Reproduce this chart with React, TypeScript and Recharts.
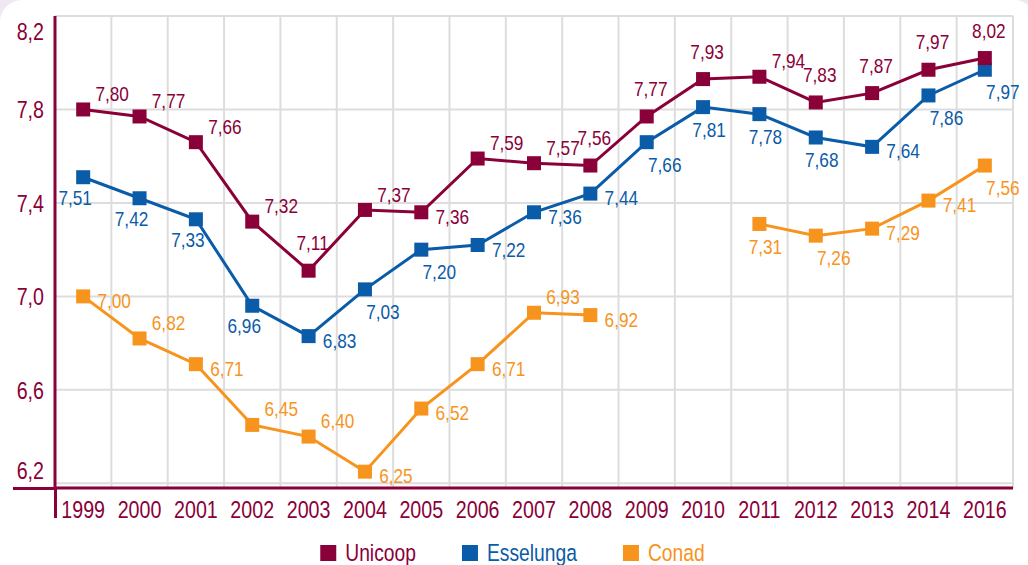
import {
  LineChart,
  Line,
  XAxis,
  YAxis,
  CartesianGrid,
  Legend,
  LabelList,
} from 'recharts'

const years = [
  '1999', '2000', '2001', '2002', '2003', '2004', '2005', '2006', '2007',
  '2008', '2009', '2010', '2011', '2012', '2013', '2014', '2016',
]
const unicoop = [
  7.8, 7.77, 7.66, 7.32, 7.11, 7.37, 7.36, 7.59, 7.57, 7.56, 7.77, 7.93, 7.94,
  7.83, 7.87, 7.97, 8.02,
]
const esselunga = [
  7.51, 7.42, 7.33, 6.96, 6.83, 7.03, 7.2, 7.22, 7.36, 7.44, 7.66, 7.81, 7.78,
  7.68, 7.64, 7.86, 7.97,
]
const conad = [
  7.0, 6.82, 6.71, 6.45, 6.4, 6.25, 6.52, 6.71, 6.93, 6.92, null, null, 7.31,
  7.26, 7.29, 7.41, 7.56,
]
const yTicks = [6.2, 6.6, 7.0, 7.4, 7.8, 8.2]

// where each value label sits around its point
const unicoopLabelAt = ['tr', 'tr', 'tr', 'tr', 't', 'tr', 'r', 'tr', 'tr', 't', 't', 't', 'tr', 't', 't', 't', 't']
const esselungaLabelAt = ['bl', 'bl', 'bl', 'bl', 'r', 'br', 'br', 'r', 'r', 'r', 'br', 'b', 'b', 'b', 'r', 'br', 'br']
const conadLabelAt = ['r', 'tr', 'r', 'tr', 'tr', 'r', 'r', 'r', 'tr', 'r', '', '', 'b', 'br', 'r', 'r', 'br']

const data = years.map((year, i) => ({
  year,
  unicoop: unicoop[i],
  esselunga: esselunga[i],
  conad: conad[i],
}))

const MAROON = '#8a0038'
const BLUE = '#0a5ba8'
const ORANGE = '#f7941d'
// no narrow face installed, so Liberation Sans is squeezed to 82% like Arial Narrow
const FONT = "'Liberation Sans', Arial, sans-serif"
const NARROW = 0.82

const W = 1028
const H = 565
const M = { top: 16, right: 15, left: 0, bottom: 0 }
const Y_AXIS_W = 55
const X_AXIS_H = 30
const LEGEND_H = 47
const plotLeft = M.left + Y_AXIS_W
const plotWidth = W - M.right - plotLeft
const plotBottom = H - M.bottom - LEGEND_H - X_AXIS_H
const band = plotWidth / years.length
const bandEdges = years.map((_, i) => plotLeft + (i + 1) * band)

const offsets: Record<string, [number, number]> = {
  tr: [29, -16],
  t: [4, -28],
  r: [31, 4],
  br: [18, 22],
  b: [6, 22],
  bl: [-8, 20],
}

const fmt = (v: number) => v.toFixed(2).replace('.', ',')

const NarrowText = (props: any) => {
  const { x, y, children, ...rest } = props
  return (
    <text
      transform={`translate(${x} ${y}) scale(${NARROW} 1)`}
      x={0}
      y={0}
      fontFamily={FONT}
      {...rest}
    >
      {children}
    </text>
  )
}

const SquareDot = (color: string) => (props: any) => {
  const { cx, cy, index } = props
  if (cx == null || cy == null) return <g key={index} />
  return <rect key={index} x={cx - 7} y={cy - 7} width={14} height={14} fill={color} />
}

const valueLabel = (color: string, at: string[]) => (props: any) => {
  const { x, y, value, index } = props
  if (value == null || x == null || y == null) return null
  const [dx, dy] = offsets[at[index]] || offsets.r
  return (
    <NarrowText x={x + dx} y={y + dy} dy="0.36em" textAnchor="middle" fill={color} fontSize={21}>
      {fmt(value)}
    </NarrowText>
  )
}

const YTick = (props: any) => {
  const { x, y, payload } = props
  let shift = 0
  if (payload.value === 8.2) shift = 15
  if (payload.value === 6.2) shift = -13
  return (
    <NarrowText x={x + 3} y={y + shift} dy="0.36em" textAnchor="end" fill={MAROON} fontSize={24}>
      {payload.value.toFixed(1).replace('.', ',')}
    </NarrowText>
  )
}

const XTick = (props: any) => {
  const { x, y, payload } = props
  return (
    <NarrowText x={x} y={y} dy="0.92em" textAnchor="middle" fill={MAROON} fontSize={24}>
      {payload.value}
    </NarrowText>
  )
}

const legendItems = [
  { name: 'Unicoop', color: MAROON },
  { name: 'Esselunga', color: BLUE },
  { name: 'Conad', color: ORANGE },
]

const measure = (txt: string, size: number) => {
  const ctx = document.createElement('canvas').getContext('2d')
  if (!ctx) return txt.length * size * 0.5
  ctx.font = `${size}px ${FONT}`
  return ctx.measureText(txt).width * NARROW
}

const LegendRow = () => {
  const size = 23.5
  const box = 16
  const gapIn = 9
  const gapOut = 46
  const widths = legendItems.map((it) => box + gapIn + measure(it.name, size))
  const total = widths.reduce((a, b) => a + b, 0) + gapOut * (legendItems.length - 1)
  let cursor = (W - M.right - total) / 2 + 6
  return (
    <svg width={W - M.right} height={LEGEND_H} style={{ display: 'block' }}>
      {legendItems.map((it, i) => {
        const x0 = cursor
        cursor += widths[i] + gapOut
        return (
          <g key={it.name}>
            <rect x={x0} y={27} width={box} height={box} fill={it.color} />
            <NarrowText x={x0 + box + gapIn} y={43} fill={it.color} fontSize={size}>
              {it.name}
            </NarrowText>
          </g>
        )
      })}
    </svg>
  )
}

export default function App() {
  return (
    <div
      style={{
        position: 'absolute',
        top: 0,
        left: 0,
        width: W,
        height: H,
        overflow: 'hidden',
        background: '#efe8f2',
      }}
    >
      <div
        style={{
          position: 'absolute',
          top: 0,
          left: 0,
          width: 1036,
          height: 600,
          background: '#fff',
          borderRadius: 22,
        }}
      />
      {/* axis lines run past the plot corner */}
      <div style={{ position: 'absolute', left: plotLeft - 1.5, top: plotBottom, width: 3, height: 30, background: MAROON }} />
      <div style={{ position: 'absolute', left: 13, top: plotBottom - 1.5, width: plotLeft - 13, height: 3, background: MAROON }} />
      <LineChart
        width={W}
        height={H}
        data={data}
        margin={M}
        style={{ position: 'absolute', top: 0, left: 0 }}
      >
        <CartesianGrid stroke="#dddddd" strokeWidth={2} verticalPoints={bandEdges} />
        <XAxis
          dataKey="year"
          height={X_AXIS_H}
          padding={{ left: band / 2, right: band / 2 }}
          axisLine={{ stroke: MAROON, strokeWidth: 3 }}
          tickLine={false}
          tick={<XTick />}
          interval={0}
        />
        <YAxis
          width={Y_AXIS_W}
          domain={[6.18, 8.2]}
          ticks={yTicks}
          allowDataOverflow
          axisLine={{ stroke: MAROON, strokeWidth: 3 }}
          tickLine={false}
          tick={<YTick />}
          tickMargin={8}
        />
        <Legend verticalAlign="bottom" height={LEGEND_H} content={() => <LegendRow />} />
        <Line
          dataKey="conad"
          stroke={ORANGE}
          strokeWidth={3}
          dot={SquareDot(ORANGE)}
          activeDot={false}
          isAnimationActive={false}
        >
          <LabelList dataKey="conad" content={valueLabel(ORANGE, conadLabelAt)} />
        </Line>
        <Line
          dataKey="esselunga"
          stroke={BLUE}
          strokeWidth={3}
          dot={SquareDot(BLUE)}
          activeDot={false}
          isAnimationActive={false}
        >
          <LabelList dataKey="esselunga" content={valueLabel(BLUE, esselungaLabelAt)} />
        </Line>
        <Line
          dataKey="unicoop"
          stroke={MAROON}
          strokeWidth={3}
          dot={SquareDot(MAROON)}
          activeDot={false}
          isAnimationActive={false}
        >
          <LabelList dataKey="unicoop" content={valueLabel(MAROON, unicoopLabelAt)} />
        </Line>
      </LineChart>
    </div>
  )
}
